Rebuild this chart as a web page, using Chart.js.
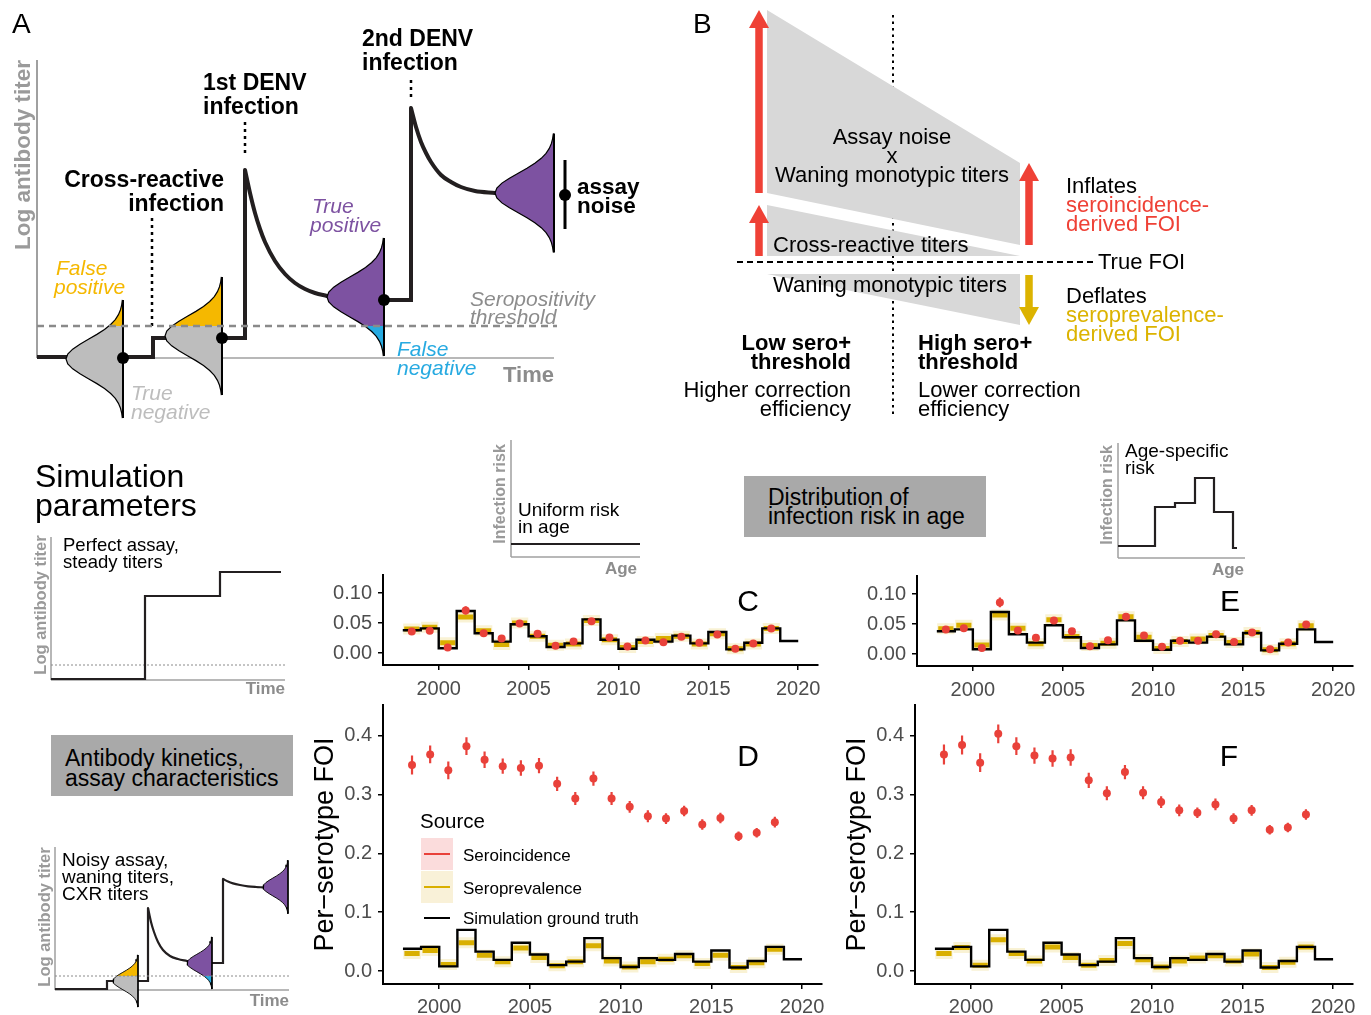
<!DOCTYPE html>
<html lang="en">
<head>
<meta charset="UTF-8">
<title>Seroincidence vs seroprevalence FOI simulation</title>
<script src="https://cdn.jsdelivr.net/npm/chart.js@4"></script>
<style>
  body { margin: 0; background: #fff; }
  #page { position: relative; width: 1371px; height: 1015px; overflow: hidden;
          font-family: 'Liberation Sans', Arial, Helvetica, sans-serif; }
  canvas { position: absolute; }
  .lbl { position: absolute; white-space: nowrap; line-height: 1; z-index: 5; }
  .box { position: absolute; background: #a9a9a9; }
  .key { position: absolute; z-index: 5; }
</style>
</head>
<body>
<div id="page">
  <canvas id="overlay" width="1371" height="1015" style="left:0;top:0;z-index:0"></canvas>
  <canvas id="chartC" width="530" height="135" style="left:300px;top:565px;z-index:2"></canvas>
  <canvas id="chartE" width="530" height="135" style="left:834px;top:566px;z-index:2"></canvas>
  <canvas id="chartD" width="530" height="320" style="left:300px;top:695px;z-index:2"></canvas>
  <canvas id="chartF" width="530" height="320" style="left:832px;top:695px;z-index:2"></canvas>
  <div class="box" style="left:51px;top:735px;width:242px;height:61px"></div>
  <div class="box" style="left:744px;top:476px;width:242px;height:61px"></div>
  <div class="key" style="left:421px;top:838px;width:32px;height:32px;background:#fbdcdc"></div>
  <div class="key" style="left:424px;top:853px;width:26px;height:2px;background:#e9413a"></div>
  <div class="key" style="left:421px;top:871px;width:32px;height:32px;background:#f9f1d8"></div>
  <div class="key" style="left:424px;top:886px;width:26px;height:2px;background:#d9af00"></div>
  <div class="key" style="left:424px;top:917px;width:26px;height:2px;background:#000"></div>
</div>
<script>
const FONT = "'Liberation Sans', Arial, Helvetica, sans-serif";
Chart.defaults.font.family = FONT;

// ---- data ----
const yearStarts = [1998, 1999, 2000, 2001, 2002, 2003, 2004, 2005, 2006, 2007, 2008,
                    2009, 2010, 2011, 2012, 2013, 2014, 2015, 2016, 2017, 2018, 2019];
const estYears = [1998.5, 1999.5, 2000.5, 2001.5, 2002.5, 2003.5, 2004.5, 2005.5, 2006.5, 2007.5, 2008.5,
                  2009.5, 2010.5, 2011.5, 2012.5, 2013.5, 2014.5, 2015.5, 2016.5, 2017.5, 2018.5];
const groundTruth = [.038, .041, .008, .070, .033, .019, .048, .028, .010, .016, .056,
                     .022, .007, .022, .019, .029, .016, .035, .006, .017, .041, .020];

const incC = [.036, .037, .009, .071, .033, .024, .049, .032, .012, .019, .053, .026, .011, .021, .018, .027, .017, .031, .007, .016, .041];
const errC = [.004, .004, .003, .007, .004, .005, .004, .004, .003, .004, .004, .004, .003, .003, .003, .004, .003, .004, .003, .003, .004];
const prevC = [.040, .043, .017, .060, .037, .014, .050, .028, .013, .015, .054, .022, .009, .019, .024, .028, .015, .032, .007, .015, .041];

const incE = [.041, .043, .010, .086, .039, .027, .056, .038, .013, .023, .062, .031, .012, .022, .022, .033, .020, .036, .008, .019, .049];
const errE = [.004, .004, .003, .008, .005, .005, .005, .005, .003, .004, .004, .004, .003, .003, .003, .004, .003, .004, .003, .003, .005];
const prevE = [.042, .048, .015, .065, .043, .017, .057, .029, .014, .018, .062, .028, .009, .021, .025, .031, .019, .036, .007, .017, .047];

const incD = [.350, .368, .341, .382, .359, .348, .345, .349, .318, .293, .327, .293, .279, .263, .259, .272, .249, .260, .229, .235, .253];
const errD = [.016, .015, .015, .015, .014, .013, .013, .013, .012, .011, .012, .011, .010, .010, .009, .009, .009, .009, .008, .008, .009];
const prevD = [.030, .035, .011, .048, .027, .016, .039, .023, .009, .016, .043, .017, .007, .016, .020, .026, .013, .027, .006, .014, .037];

const incF = [.368, .384, .354, .403, .382, .366, .361, .363, .324, .302, .338, .303, .287, .273, .269, .283, .259, .273, .240, .244, .266];
const errF = [.017, .016, .016, .016, .015, .014, .014, .014, .013, .012, .012, .011, .010, .010, .009, .010, .009, .009, .008, .008, .009];
const prevF = [.030, .040, .010, .053, .030, .017, .041, .023, .010, .018, .047, .019, .007, .017, .022, .026, .017, .029, .006, .015, .041];

const xTickValues = [2000, 2005, 2010, 2015, 2020];
const yTicksTop = [0, 0.05, 0.10];
const yTicksBottom = [0, 0.1, 0.2, 0.3, 0.4];

const RED = '#e9413a', YEL = '#d9af00';

// ---- schematic shapes (page pixel units) ----
const aAxisY = [[37, 60], [37, 358]];
const aAxisX = [[37, 358], [554, 358]];
const aThreshold = [[37, 326], [557, 326]];
const aSteps1 = [[37, 357], [153, 357], [153, 338], [245, 338], [245, 170]];
const aDecay1 = [[245, 170], [250, 193], [255, 213], [260, 229], [265, 242], [275, 261], [285, 274], [295, 283], [305, 289], [315, 293], [327, 296]];
const aSteps2 = [[327, 296], [384, 300], [411, 300], [411, 108]];
const aDecay2 = [[411, 108], [416, 127], [421, 142], [426, 153], [431, 162], [441, 175], [451, 182], [461, 187], [475, 191], [495, 193]];
const aGuides = [[[152, 218], [152, 330]], [[245, 122], [245, 153]], [[411, 80], [411, 98]]];
const aDots = [[123, 358], [222, 338], [384, 300], [565, 195]];
const aNoiseBar = [[565, 160], [565, 229]];
// right edge x, centre y, bulge width, sigma, threshold y, colour above, colour below
const aViolins = [[123, 359, 57, 19.7, 326, '#f5b800', '#bdbdbd'], [222, 336, 57, 19.7, 326, '#f5b800', '#bdbdbd'],
                  [384, 297, 57, 19.7, 326, '#7d52a1', '#27aae1'], [554, 193, 59, 19.8, 326, '#7d52a1', '#7d52a1']];

const bDivider = [[893, 15], [893, 415]];
const bTrueFoi = [[737, 262], [1093, 262]];
const bBands = [[[767, 10], [1020, 163], [1020, 245], [767, 193]],
                [[767, 205], [1020, 256], [767, 256]],
                [[767, 274], [1020, 274], [1020, 325]]];
const bArrows = [[759, 193, 10, '#ef4136'], [759, 256, 205, '#ef4136'], [1029, 245, 163, '#ef4136'], [1029, 275, 325, '#dcb300']];

const s1Axes = [[[51, 537], [51, 680]], [[51, 680], [285, 680]]];
const s1Thr = [[51, 665], [285, 665]];
const s1Titer = [[51, 679], [145, 679], [145, 596], [220, 596], [220, 572], [281, 572]];
const s2Axes = [[[55, 847], [55, 990]], [[55, 990], [289, 990]]];
const s2Thr = [[55, 976], [289, 976]];
const s2Steps1 = [[55, 989], [107, 989], [107, 981], [148, 981], [148, 908]];
const s2Decay1 = [[148, 908], [151, 922], [154, 932], [158, 942], [163, 950], [170, 956], [178, 959], [187, 961]];
const s2Steps2 = [[187, 961], [212, 963], [223, 963], [223, 879]];
const s2Decay2 = [[223, 879], [228, 881.6], [233, 883.4], [240, 885], [248, 886.3], [256, 887], [263, 887.4]];
const s2Violins = [[138, 981, 25, 8.7, 976, '#f5b800', '#bdbdbd'], [212, 963, 25, 8.7, 976, '#7d52a1', '#27aae1'],
                   [288, 887, 25, 8.9, 976, '#7d52a1', '#7d52a1']];

const r1Axes = [[[511, 440], [511, 557]], [[511, 557], [640, 557]]];
const r1Risk = [[511, 544], [640, 544]];
const r2Axes = [[[1118, 443], [1118, 558]], [[1118, 558], [1245, 558]]];
const r2Risk = [[1118, 546], [1155, 546], [1155, 507], [1175, 507], [1175, 503], [1195, 503], [1195, 478],
                [1214, 478], [1214, 512], [1233, 512], [1233, 548], [1237, 548]];

const gaussHalf = [1, .969, .883, .755, .607, .458, .325, .216, .135, .080, .044, .023, .011];

// text: [text, x, y(centre), size, options]
const GRAY = '#9a9a9a';
const textLabels = [
  ['A', 12, 24, 28, {}],
  ['Log antibody titer', 23, 155, 22.5, {b: 1, c: GRAY, rot: 1}],
  ['2nd DENV', 362, 38, 23, {b: 1}], ['infection', 362, 62, 23, {b: 1}],
  ['1st DENV', 203, 82, 23, {b: 1}], ['infection', 203, 106, 23, {b: 1}],
  ['Cross-reactive', 224, 179, 23, {b: 1, a: 'right'}], ['infection', 224, 203, 23, {b: 1, a: 'right'}],
  ['False', 56, 267, 21, {i: 1, c: '#f5b800'}], ['positive', 54, 286, 21, {i: 1, c: '#f5b800'}],
  ['True', 312, 205, 21, {i: 1, c: '#7d52a1'}], ['positive', 310, 224, 21, {i: 1, c: '#7d52a1'}],
  ['assay', 577, 187, 22.5, {b: 1}], ['noise', 577, 206, 22.5, {b: 1}],
  ['Seropositivity', 470, 298, 21, {i: 1, c: '#8c8c8c'}], ['threshold', 470, 316, 21, {i: 1, c: '#8c8c8c'}],
  ['False', 397, 348, 21, {i: 1, c: '#27aae1'}], ['negative', 397, 367, 21, {i: 1, c: '#27aae1'}],
  ['Time', 554, 375, 22, {b: 1, c: '#8c8c8c', a: 'right'}],
  ['True', 131, 392, 21, {i: 1, c: '#bdbdbd'}], ['negative', 131, 411, 21, {i: 1, c: '#bdbdbd'}],

  ['B', 693, 24, 28, {}],
  ['Assay noise', 892, 137, 22, {a: 'center'}], ['x', 892, 156, 22, {a: 'center'}],
  ['Waning monotypic titers', 892, 175, 22, {a: 'center'}],
  ['Cross-reactive titers', 773, 245, 22, {}],
  ['True FOI', 1098, 262, 22, {}],
  ['Waning monotypic titers', 773, 285, 22, {}],
  ['Inflates', 1066, 186, 22, {}], ['seroincidence-', 1066, 205, 22, {c: '#ef4136'}], ['derived FOI', 1066, 224, 22, {c: '#ef4136'}],
  ['Deflates', 1066, 296, 22, {}], ['seroprevalence-', 1066, 315, 22, {c: '#dcb300'}], ['derived FOI', 1066, 334, 22, {c: '#dcb300'}],
  ['Low sero+', 851, 343, 22, {b: 1, a: 'right'}], ['threshold', 851, 362, 22, {b: 1, a: 'right'}],
  ['High sero+', 918, 343, 22, {b: 1}], ['threshold', 918, 362, 22, {b: 1}],
  ['Higher correction', 851, 390, 22, {a: 'right'}], ['efficiency', 851, 409, 22, {a: 'right'}],
  ['Lower correction', 918, 390, 22, {}], ['efficiency', 918, 409, 22, {}],

  ['Simulation', 35, 476, 32, {}], ['parameters', 35, 505, 32, {}],
  ['Log antibody titer', 40, 605, 16.5, {b: 1, c: GRAY, rot: 1}],
  ['Perfect assay,', 63, 545, 18.5, {}], ['steady titers', 63, 562, 18.5, {}],
  ['Time', 285, 688, 17, {b: 1, c: '#8c8c8c', a: 'right'}],
  ['Antibody kinetics,', 65, 758, 23, {}], ['assay characteristics', 65, 778, 23, {}],
  ['Log antibody titer', 44, 917, 16.5, {b: 1, c: GRAY, rot: 1}],
  ['Noisy assay,', 62, 859, 19, {}], ['waning titers,', 62, 876, 19, {}], ['CXR titers', 62, 893, 19, {}],
  ['Time', 289, 1000, 17, {b: 1, c: '#8c8c8c', a: 'right'}],

  ['Infection risk', 500, 494, 16, {b: 1, c: GRAY, rot: 1}],
  ['Uniform risk', 518, 509, 19, {}], ['in age', 518, 526, 19, {}],
  ['Age', 637, 568, 17, {b: 1, c: '#8c8c8c', a: 'right'}],
  ['Distribution of', 768, 497, 23, {}], ['infection risk in age', 768, 516, 23, {}],
  ['Infection risk', 1107, 495, 16, {b: 1, c: GRAY, rot: 1}],
  ['Age-specific', 1125, 450, 19, {}], ['risk', 1125, 467, 19, {}],
  ['Age', 1244, 569, 17, {b: 1, c: '#8c8c8c', a: 'right'}],

  ['C', 748, 601, 30, {a: 'center'}], ['E', 1230, 601, 30, {a: 'center'}],
  ['D', 748, 756, 30, {a: 'center'}], ['F', 1229, 756, 30, {a: 'center'}],
  ['Source', 420, 821, 20.5, {}],
  ['Seroincidence', 463, 855, 17, {}], ['Seroprevalence', 463, 888, 17, {}],
  ['Simulation ground truth', 463, 918, 17, {}]
];

const page = document.getElementById('page');
textLabels.forEach(([text, x, y, size, o]) => {
  const d = document.createElement('div');
  d.className = 'lbl';
  d.textContent = text;
  d.style.fontSize = size + 'px';
  d.style.color = o.c || '#000';
  if (o.b) d.style.fontWeight = 'bold';
  if (o.i) d.style.fontStyle = 'italic';
  if (o.rot) {
    d.style.left = x + 'px'; d.style.top = y + 'px';
    d.style.transform = 'translate(-50%,-50%) rotate(-90deg)';
  } else {
    d.style.top = (y - size / 2) + 'px';
    if (o.a === 'right') d.style.right = (1371 - x) + 'px';
    else if (o.a === 'center') { d.style.left = x + 'px'; d.style.transform = 'translateX(-50%)'; }
    else d.style.left = x + 'px';
  }
  page.appendChild(d);
});

// ---- schematic overlay drawn through one chart with pixel scales ----
const P = a => a.map(([x, y]) => ({x, y}));
function path(pts, color, width, extra = {}) {
  return Object.assign({data: P(pts), showLine: true, pointRadius: 0, borderColor: color,
    borderWidth: width, fill: false, order: 3, tension: 0}, extra);
}
function shape(pts, color, order) {
  return {data: P(pts), showLine: true, pointRadius: 0, borderWidth: 0, borderColor: 'rgba(0,0,0,0)',
    backgroundColor: color, fill: 'shape', order: order};
}
function violin(v, order, lw) {
  const [xr, yc, w, s, thr, cUp, cDown] = v;
  const ks = [];
  for (let i = gaussHalf.length - 1; i > 0; i--) ks.push([-i * 0.25, gaussHalf[i]]);
  for (let i = 0; i < gaussHalf.length; i++) ks.push([i * 0.25, gaussHalf[i]]);
  const out = ks.map(([k, f]) => [xr - w * f, yc + k * s]);
  const top = out[0][1], bot = out[out.length - 1][1];
  const sets = [];
  if (thr > top && thr < bot) {
    const j = out.findIndex(p => p[1] > thr);
    const [x0, y0] = out[j - 1], [x1, y1] = out[j];
    const xi = x0 + (x1 - x0) * (thr - y0) / (y1 - y0);
    sets.push(shape([...out.slice(0, j), [xi, thr], [xr, thr], [xr, top]], cUp, order));
    sets.push(shape([[xr, thr], [xi, thr], ...out.slice(j), [xr, bot]], cDown, order));
  } else {
    sets.push(shape([...out, [xr, top]], thr <= top ? cDown : cUp, order));
  }
  sets.push(path(out, '#000', lw, {order: order - 1}));
  sets.push(path([[xr, top], [xr, bot]], '#000', lw + 0.8, {order: order - 1}));
  return sets;
}
function arrow([x, tail, tip, color]) {
  const dir = tip < tail ? -1 : 1;
  const base = tip - dir * 18;
  return [path([[x, tail], [x, base + dir]], color, 7.5, {order: 2, borderCapStyle: 'butt'}),
          shape([[x - 10, base], [x + 10, base], [x, tip]], color, 2)];
}
const curve = {cubicInterpolationMode: 'monotone', borderCapStyle: 'round', order: 7};

const overlaySets = [
  // panel A
  path(aAxisY, '#a0a0a0', 2, {order: 9}),
  path(aAxisX, '#a0a0a0', 1.5, {order: 9}),
  path(aSteps1, '#231f20', 4, {order: 7, borderJoinStyle: 'miter'}),
  path(aDecay1, '#231f20', 4, curve),
  path(aSteps2, '#231f20', 4, {order: 7}),
  path(aDecay2, '#231f20', 4, curve),
  ...aViolins.flatMap(v => violin(v, 5, 1.2)),
  path(aThreshold, '#8a8a8a', 2.5, {order: 2, borderDash: [7, 5]}),
  ...aGuides.map(g => path(g, '#000', 2.5, {order: 2, borderDash: [3, 4]})),
  path(aNoiseBar, '#000', 3, {order: 1}),
  {data: P(aDots), showLine: false, pointRadius: 6, pointBackgroundColor: '#000', pointBorderWidth: 0, order: 0},
  // panel B
  path(bDivider, '#000', 2, {order: 9, borderDash: [2.5, 4]}),
  ...bBands.map(b => shape(b, '#d8d8d8', 8)),
  path(bTrueFoi, '#000', 2, {order: 2, borderDash: [6, 4]}),
  ...bArrows.flatMap(arrow),
  // simulation-parameter insets
  ...s1Axes.map(a => path(a, '#a0a0a0', 1.5, {order: 9})),
  path(s1Thr, '#8a8a8a', 1, {order: 8, borderDash: [2, 2]}),
  path(s1Titer, '#231f20', 2.2, {order: 3}),
  ...s2Axes.map(a => path(a, '#a0a0a0', 1.5, {order: 9})),
  path(s2Thr, '#8a8a8a', 1, {order: 2, borderDash: [2, 2]}),
  path(s2Steps1, '#231f20', 2.2, {order: 7}),
  path(s2Decay1, '#231f20', 2.2, curve),
  path(s2Steps2, '#231f20', 2.2, {order: 7}),
  path(s2Decay2, '#231f20', 2.2, curve),
  ...s2Violins.flatMap(v => violin(v, 5, 0.9)),
  // infection-risk insets
  ...r1Axes.map(a => path(a, '#a0a0a0', 1.5, {order: 9})),
  path(r1Risk, '#231f20', 2.2, {order: 3}),
  ...r2Axes.map(a => path(a, '#a0a0a0', 1.5, {order: 9})),
  path(r2Risk, '#231f20', 2.2, {order: 3})
];

new Chart(document.getElementById('overlay'), {
  type: 'scatter',
  data: {datasets: overlaySets},
  options: {
    responsive: false, animation: false, events: [],
    layout: {padding: 0, autoPadding: false},
    plugins: {legend: {display: false}, tooltip: {enabled: false}},
    scales: {
      x: {type: 'linear', min: 0, max: 1371, display: false},
      y: {type: 'linear', min: 0, max: 1015, reverse: true, display: false}
    }
  }
});

// ---- data panels C-F ----
function segs(xs, lo, hi) {
  return xs.flatMap((x, i) => [{x, y: lo[i]}, {x, y: hi[i]}, {x, y: null}]);
}
function prevSegs(vals, hw) {
  return estYears.flatMap((x, i) => [{x: x - hw, y: vals[i]}, {x: x + hw, y: vals[i]}, {x, y: null}]);
}
function noPad(sc) {
  sc.paddingTop = 0; sc.paddingBottom = 0; sc.paddingLeft = 0; sc.paddingRight = 0;
}
function panel(id, s) {
  const truthPts = yearStarts.map((x, i) => ({x, y: groundTruth[i]}));
  truthPts.push({x: 2020, y: groundTruth[groundTruth.length - 1]});
  const axisCommon = {
    grid: {display: true, drawOnChartArea: false, drawTicks: true, tickLength: 5, color: '#000', lineWidth: 1.5},
    border: {display: true, color: '#000', width: 2}
  };
  new Chart(document.getElementById(id), {
    type: 'scatter',
    data: {datasets: [
      {data: estYears.map((x, i) => ({x, y: s.inc[i]})), showLine: false, pointRadius: 4,
       pointBackgroundColor: RED, pointBorderWidth: 0},
      {data: segs(estYears, s.inc.map((v, i) => v - s.err[i]), s.inc.map((v, i) => v + s.err[i])),
       showLine: true, borderColor: RED, borderWidth: 2.2, pointRadius: 0},
      {data: truthPts, showLine: true, stepped: 'before', borderColor: '#000', borderWidth: 2.4, pointRadius: 0},
      {data: prevSegs(s.prev, 0.42), showLine: true, borderColor: YEL, borderWidth: 5, pointRadius: 0, borderCapStyle: 'butt'},
      {data: prevSegs(s.prev, 0.48), showLine: true, borderColor: 'rgba(217,175,0,0.17)', borderWidth: 11, pointRadius: 0}
    ]},
    options: {
      responsive: false, animation: false, events: [],
      layout: {padding: {left: 0, right: s.padR, top: s.padT, bottom: 0}, autoPadding: false},
      plugins: {legend: {display: false}, tooltip: {enabled: false}},
      scales: {
        x: Object.assign({}, axisCommon, {
          type: 'linear', min: 1996.9, max: 2021.1,
          afterBuildTicks: sc => { sc.ticks = xTickValues.map(value => ({value})); },
          afterFit: sc => { sc.height = s.xH; noPad(sc); },
          ticks: {font: {size: 20}, color: '#4d4d4d', padding: s.xPad, maxRotation: 0, callback: v => String(v)}
        }),
        y: Object.assign({}, axisCommon, {
          type: 'linear', min: s.yMin, max: s.yMax,
          afterBuildTicks: sc => { sc.ticks = s.yTicks.map(value => ({value})); },
          afterFit: sc => { sc.width = 83; noPad(sc); },
          ticks: {font: {size: 20}, color: '#4d4d4d', padding: 6, callback: v => v.toFixed(s.digits)},
          title: {display: !!s.title, text: s.title || '', font: {size: 27}, color: '#000', padding: {top: 9, bottom: 0}}
        })
      }
    }
  });
}

panel('chartC', {inc: incC, err: errC, prev: prevC, yMin: -0.02, yMax: 0.13, yTicks: yTicksTop, digits: 2, padR: 12, padT: 10, xH: 35, xPad: 7});
panel('chartE', {inc: incE, err: errE, prev: prevE, yMin: -0.02, yMax: 0.13, yTicks: yTicksTop, digits: 2, padR: 11, padT: 10, xH: 35, xPad: 7});
panel('chartD', {inc: incD, err: errD, prev: prevD, yMin: -0.022, yMax: 0.452, yTicks: yTicksBottom, digits: 1, padR: 8, padT: 10, xH: 31, xPad: 6, title: 'Per\u2212serotype FOI'});
panel('chartF', {inc: incF, err: errF, prev: prevF, yMin: -0.022, yMax: 0.452, yTicks: yTicksBottom, digits: 1, padR: 9, padT: 10, xH: 31, xPad: 6, title: 'Per\u2212serotype FOI'});
</script>
</body>
</html>
